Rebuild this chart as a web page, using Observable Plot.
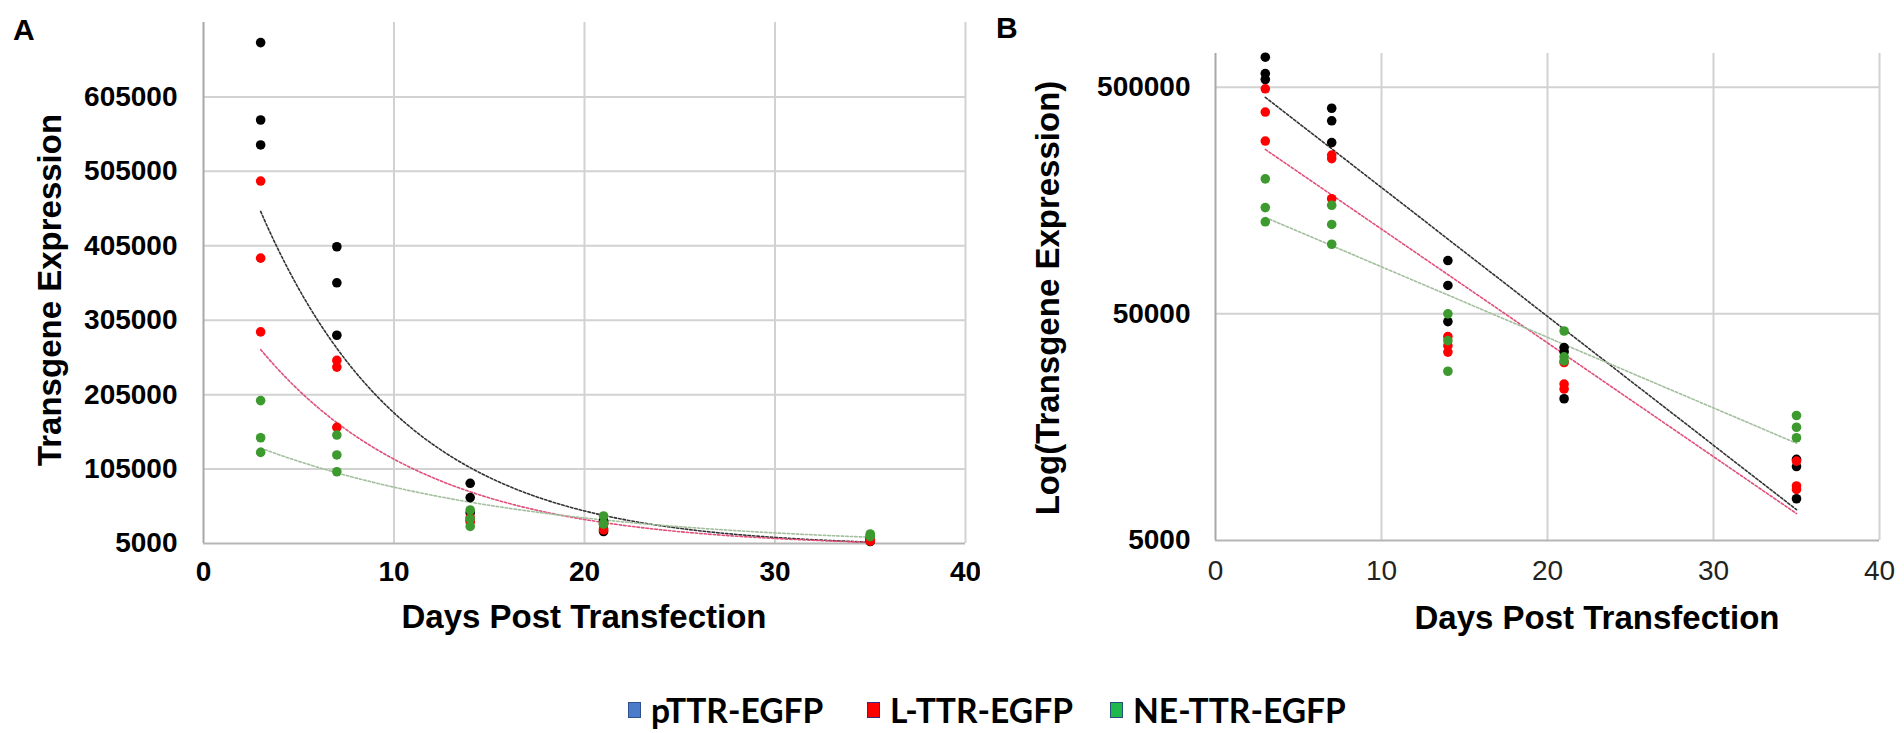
<!DOCTYPE html>
<html>
<head>
<meta charset="utf-8">
<script src="https://cdn.jsdelivr.net/npm/d3@7"></script>
<script src="https://cdn.jsdelivr.net/npm/@observablehq/plot@0.6"></script>
<style>
  html, body { margin: 0; padding: 0; background: #fff; }
  #fig { position: relative; width: 1904px; height: 733px; overflow: hidden; background: #fff; font-family: "Liberation Sans", Arial, sans-serif; }
  .panel { position: absolute; top: 0; }
  .tag { position: absolute; font: bold 30px "Liberation Sans", Arial, sans-serif; line-height: 30px; color: #000; }
  .xtitle { position: absolute; font: bold 33px "Liberation Sans", Arial, sans-serif; line-height: 33px; color: #000; transform: translate(-50%, -50%); white-space: nowrap; }
  .ytitle { position: absolute; font: bold 33px "Liberation Sans", Arial, sans-serif; line-height: 33px; color: #000; transform: translate(-50%, -50%) rotate(-90deg); white-space: nowrap; }
  .litem { position: absolute; top: 690px; height: 40px; display: flex; align-items: center; gap: 10px; font-family: Lato, "Open Sans", sans-serif; font-weight: bold; color: #000; white-space: nowrap; }
  .sw { width: 11px; height: 14px; border: 1px solid; }
</style>
</head>
<body>
<div id="fig"></div>
<script>
// ---- data ----
const seriesNames = ["pTTR-EGFP", "L-TTR-EGFP", "NE-TTR-EGFP"];
const dayReps = [3, 3, 3, 7, 7, 7, 14, 14, 14, 21, 21, 21, 35, 35, 35];
const pTTR_EGFP   = [678000, 574000, 540500, 403700, 355300, 284800, 85900, 66700, 46200, 35500, 34000, 21100, 11400, 10600, 7640];
const L_TTR_EGFP  = [492000, 388400, 289300, 251000, 242000, 161000, 39700, 36200, 33900, 30500, 24500, 23300, 11200, 8700, 8400];
const NE_TTR_EGFP = [197000, 147100, 127400, 150700, 124000, 101400, 50000, 38100, 27900, 42000, 32300, 31000, 17800, 15800, 14200];
const dotColors = ["#000000", "#ff0000", "#3c9a2e"];
const trendColors = ["#333333", "#e0507a", "#a3bf9e"];
const legendFill = ["#4a7cc9", "#ff0000", "#1fb84a"];
const legendEdge = ["#2f4f8f", "#3a2a7a", "#24507a"];
const xTicks = [0, 10, 20, 30, 40];
const yTicksA = [5000, 105000, 205000, 305000, 405000, 505000, 605000];
const yTicksB = [5000, 50000, 500000];

// ---- build tables ----
const seriesValues = [pTTR_EGFP, L_TTR_EGFP, NE_TTR_EGFP];
const points = [];
seriesValues.forEach((vals, s) => vals.forEach((v, i) => points.push({series: seriesNames[s], day: dayReps[i], value: v})));

// Excel-style exponential trendline: least squares on ln(y)
function expFit(xs, ys) {
  const ly = ys.map(Math.log);
  const mx = d3.mean(xs), my = d3.mean(ly);
  const b = d3.sum(xs, (x, i) => (x - mx) * (ly[i] - my)) / d3.sum(xs, x => (x - mx) ** 2);
  const a = my - b * mx;
  return x => Math.exp(a + b * x);
}
const [d0, d1] = d3.extent(dayReps);
const trend = [];
seriesValues.forEach((vals, s) => {
  const f = expFit(dayReps, vals);
  for (let x = d0; x <= d1 + 1e-9; x += 0.25) trend.push({series: seriesNames[s], day: x, value: f(x)});
});

const colorScale = {domain: seriesNames, range: dotColors};
const trendStroke = d => trendColors[seriesNames.indexOf(d.series)];

function panel(opts) {
  const {yType, yDomain, yTicks, width, marginLeft, marginRight, marginTop, marginBottom, xFontWeight, xFill, xPad} = opts;
  return Plot.plot({
    width, height: 650,
    marginLeft, marginRight, marginTop, marginBottom,
    style: {background: "transparent", fontFamily: "Liberation Sans, Arial, sans-serif", fontSize: "28px", color: "#000"},
    x: {domain: [0, 40], label: null},
    y: {type: yType, domain: yDomain, label: null},
    color: colorScale,
    marks: [
      Plot.gridX(xTicks.filter(d => d > 0), {stroke: "#d2d2d2", strokeOpacity: 1, strokeWidth: 2}),
      Plot.gridY(yTicks.slice(1), {stroke: "#d2d2d2", strokeOpacity: 1, strokeWidth: 2}),
      Plot.ruleX([0], {stroke: "#a8a8a8", strokeWidth: 2}),
      Plot.ruleY([yTicks[0]], {stroke: "#b5b5b5", strokeWidth: 2}),
      Plot.axisX(xTicks, {tickSize: 0, tickPadding: xPad, fontSize: 28, fontWeight: xFontWeight, fill: xFill, tickFormat: d => String(d)}),
      Plot.axisY(yTicks, {tickSize: 0, tickPadding: opts.yPad, fontSize: 28, fontWeight: "bold", fill: "#000", tickFormat: d => String(d)}),
      Plot.line(trend, {x: "day", y: "value", z: "series", stroke: trendStroke, strokeWidth: 1.6, strokeDasharray: "2.5,2"}),
      Plot.dot(points, {x: "day", y: "value", fill: "series", r: 4.8})
    ]
  });
}

const fig = document.getElementById("fig");

const A = panel({yType: "linear", yDomain: [5000, 705000], yTicks: yTicksA, width: 980,
  marginLeft: 203, marginRight: 15, marginTop: 22, marginBottom: 107, xFontWeight: "bold", xFill: "#000", xPad: 18, yPad: 26});
A.classList.add("panel"); A.style.left = "0px";
fig.appendChild(A);

const B = panel({yType: "log", yDomain: [5000, 704000], yTicks: yTicksB, width: 924,
  marginLeft: 235, marginRight: 25, marginTop: 53, marginBottom: 110, xFontWeight: "normal", xFill: "#222", xPad: 20, yPad: 25});
B.classList.add("panel"); B.style.left = "980px";
fig.appendChild(B);

function addDiv(cls, text, left, top) {
  const d = document.createElement("div");
  d.className = cls; d.textContent = text;
  d.style.left = left + "px"; d.style.top = top + "px";
  fig.appendChild(d);
  return d;
}
addDiv("tag", "A", 13, 15);
addDiv("tag", "B", 996, 13);
addDiv("xtitle", "Days Post Transfection", 584, 616);
addDiv("xtitle", "Days Post Transfection", 1597, 617);
addDiv("ytitle", "Transgene Expression", 49, 290);
addDiv("ytitle", "Log(Transgene Expression)", 1047, 298);

// legend: font size chosen so that the label widths match the reference
const ctx = document.createElement("canvas").getContext("2d");
ctx.font = "bold 30px Lato, 'Open Sans', sans-serif";
const refW = ctx.measureText(seriesNames[1]).width;
const legendFont = Math.max(22, Math.min(34, 30 * 183 / refW));
const legendLeft = [628, 867, 1110];
seriesNames.forEach((name, i) => {
  const item = document.createElement("div");
  item.className = "litem";
  item.style.left = legendLeft[i] + "px";
  item.style.fontSize = legendFont + "px";
  const sw = document.createElement("div");
  sw.className = "sw";
  sw.style.background = legendFill[i];
  sw.style.borderColor = legendEdge[i];
  const t = document.createElement("span");
  t.textContent = name;
  item.appendChild(sw); item.appendChild(t);
  fig.appendChild(item);
});
</script>
</body>
</html>
